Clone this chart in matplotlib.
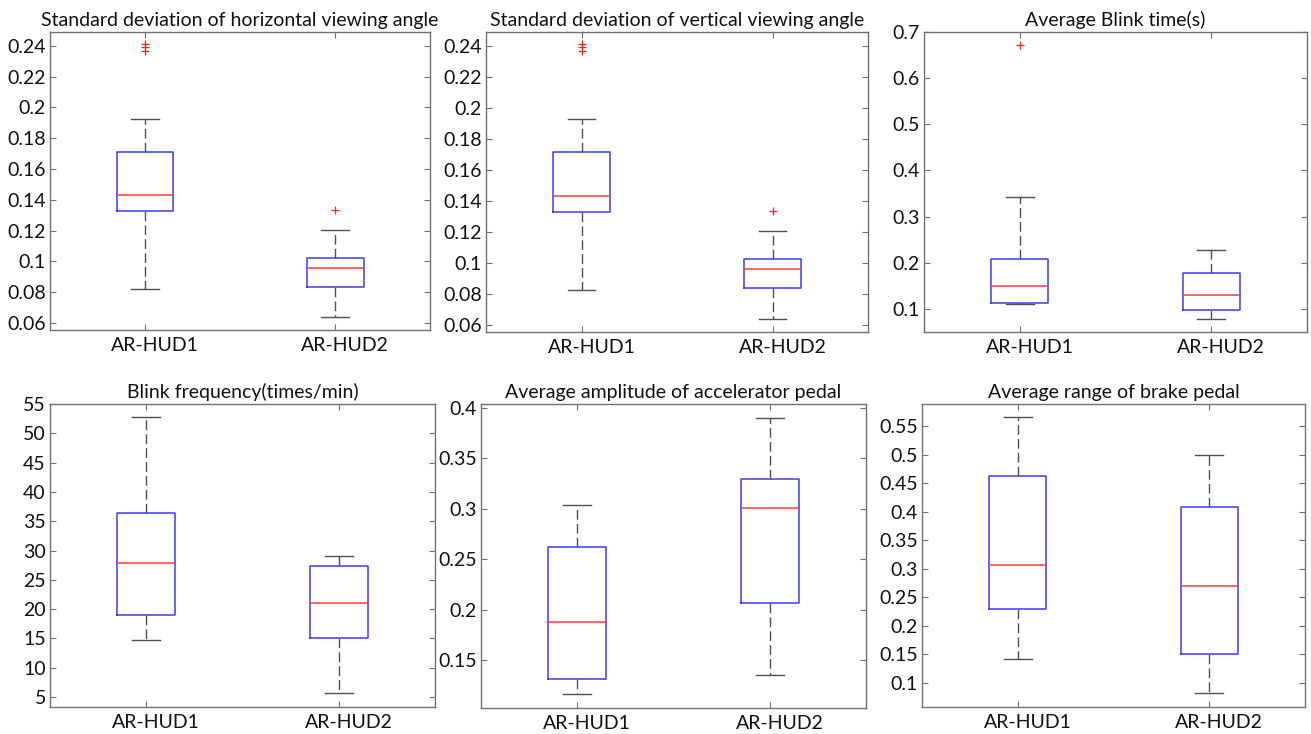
import matplotlib
matplotlib.use("Agg")
import matplotlib.pyplot as plt
from matplotlib.ticker import MultipleLocator, FuncFormatter
import matplotlib.transforms as mtransforms

plt.rcParams['font.family'] = ['Lato', 'DejaVu Sans']

groups = ["AR-HUD1", "AR-HUD2"]

titles = [
    "Standard deviation of horizontal viewing angle",
    "Standard deviation of vertical viewing angle",
    "Average Blink time(s)",
    "Blink frequency(times/min)",
    "Average amplitude of accelerator pedal",
    "Average range of brake pedal",
]

# per group: [whislo, q1, med, q3, whishi]
horiz_hud1 = [0.0824, 0.1330, 0.1432, 0.1714, 0.1926]
horiz_hud2 = [0.0640, 0.0837, 0.0960, 0.1025, 0.1207]
horiz_out1 = [0.2415, 0.2393, 0.2368]
horiz_out2 = [0.1335]

vert_hud1 = [0.0824, 0.1330, 0.1432, 0.1714, 0.1926]
vert_hud2 = [0.0640, 0.0837, 0.0960, 0.1025, 0.1207]
vert_out1 = [0.2415, 0.2393, 0.2368]
vert_out2 = [0.1335]

blink_time_hud1 = [0.110, 0.112, 0.150, 0.209, 0.3425]
blink_time_hud2 = [0.0783, 0.0987, 0.130, 0.1775, 0.2268]
blink_time_out1 = [0.6725]
blink_time_out2 = []

blink_freq_hud1 = [14.7, 19.08, 27.9, 36.33, 52.79]
blink_freq_hud2 = [5.64, 15.03, 21.13, 27.34, 29.0]
blink_freq_out1 = []
blink_freq_out2 = []

accel_hud1 = [0.1159, 0.1311, 0.1874, 0.2616, 0.304]
accel_hud2 = [0.1351, 0.2066, 0.3007, 0.3298, 0.3904]
accel_out1 = []
accel_out2 = []

brake_hud1 = [0.1418, 0.2295, 0.3064, 0.4629, 0.5658]
brake_hud2 = [0.0818, 0.150, 0.2707, 0.4088, 0.4994]
brake_out1 = []
brake_out2 = []

panels = [
    (horiz_hud1, horiz_hud2, horiz_out1, horiz_out2),
    (vert_hud1, vert_hud2, vert_out1, vert_out2),
    (blink_time_hud1, blink_time_hud2, blink_time_out1, blink_time_out2),
    (blink_freq_hud1, blink_freq_hud2, blink_freq_out1, blink_freq_out2),
    (accel_hud1, accel_hud2, accel_out1, accel_out2),
    (brake_hud1, brake_hud2, brake_out1, brake_out2),
]

ylims = [(0.0555, 0.249), (0.0555, 0.249), (0.05, 0.70),
         (3.3, 55.0), (0.1023, 0.404), (0.0578, 0.589)]
ysteps = [0.02, 0.02, 0.1, 5, 0.05, 0.05]

# axes boxes in pixels: left, right, top, bottom
boxes_px = [(50, 430, 32, 330), (486, 868, 32, 332), (924, 1307, 32, 332),
            (50, 435, 404, 707), (481, 866, 404, 708), (922, 1305, 404, 707)]

W, H = 1311, 734
fig = plt.figure(figsize=(W / 100, H / 100), dpi=100)

spine_col = '#707070'
fs = 14

for i, (title, (h1, h2, o1, o2), yl, st, (l, r, t, b)) in enumerate(
        zip(titles, panels, ylims, ysteps, boxes_px)):
    ax = fig.add_axes([l / W, 1 - b / H, (r - l) / W, (b - t) / H])
    stats = []
    for name, v, o in ((groups[0], h1, o1), (groups[1], h2, o2)):
        stats.append(dict(label=name, whislo=v[0], q1=v[1], med=v[2],
                          q3=v[3], whishi=v[4], fliers=o))
    ax.bxp(stats, positions=[1, 2], widths=0.3, showfliers=True,
           boxprops=dict(color='#3a3aff', linewidth=1.1),
           medianprops=dict(color='#ff3a3a', linewidth=1.1),
           whiskerprops=dict(color='#505050', linewidth=1.0, linestyle=(0, (7, 3))),
           capprops=dict(color='#505050', linewidth=1.0),
           capwidths=0.145,
           flierprops=dict(marker='+', markeredgecolor='#ff2020',
                           markersize=6, markeredgewidth=0.9, linestyle='none'))
    ax.set_xlim(0.5, 2.5)
    ax.set_ylim(*yl)
    ax.yaxis.set_major_locator(MultipleLocator(st))
    ax.yaxis.set_major_formatter(FuncFormatter(lambda v, p: '%g' % round(v, 4)))
    ax.set_xticks([1, 2])
    ax.set_xticklabels(groups)
    ax.tick_params(direction='in', length=4, width=0.8, color=spine_col,
                   labelsize=fs, top=True, right=True, labelcolor='#111111')
    ax.tick_params(axis='x', pad=5)
    ax.tick_params(axis='y', pad=3)
    offset = mtransforms.ScaledTranslation(10 / 100, 0, fig.dpi_scale_trans)
    for lab in ax.get_xticklabels():
        lab.set_transform(lab.get_transform() + offset)
    for s in ax.spines.values():
        s.set_color(spine_col)
        s.set_linewidth(1.0)
    ax.set_title(title, fontsize=fs, pad=4, color='#111111')

fig.savefig("out.png", dpi=100)
